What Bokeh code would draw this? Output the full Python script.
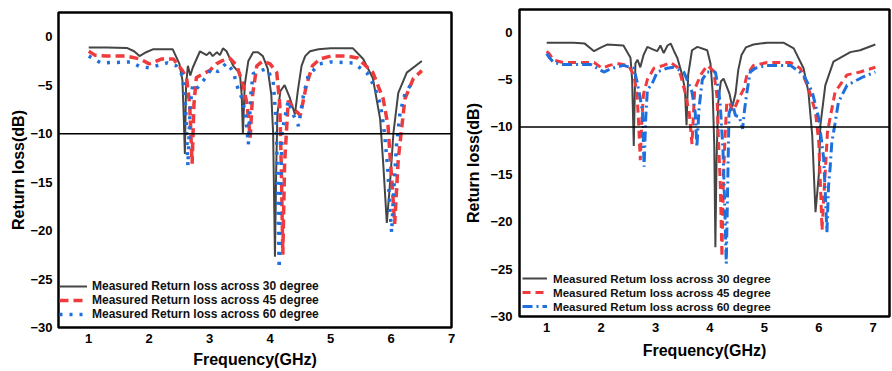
from bokeh.plotting import figure
from bokeh.layouts import row
from bokeh.models import Span, FixedTicker, Range1d
from bokeh.embed import file_html
from bokeh.resources import INLINE

# ---------------- Data (shared) ----------------
x_ticks = [1, 2, 3, 4, 5, 6, 7]
y_ticks = [-30, -25, -20, -15, -10, -5, 0]
labels = ["Measured Return loss across 30 degree",
          "Measured Return loss across 45 degree",
          "Measured Return loss across 60 degree"]
labels_r = ["Measured Retum loss across 30 degree",
            "Measured Retum loss across 45 degree",
            "Measured Retum loss across 60 degree"]

# ---------------- Data (left panel) ----------------
fL30 = [1.0, 1.3, 1.63, 1.75, 1.84, 1.95, 2.06, 2.39, 2.5, 2.55, 2.57, 2.59, 2.61, 2.64, 2.68, 2.72,
        2.84, 2.95, 3.0, 3.05, 3.12, 3.17, 3.22, 3.28, 3.39, 3.5, 3.53, 3.55, 3.58, 3.64, 3.72, 3.8,
        3.88, 3.96, 4.02, 4.05, 4.08, 4.1, 4.12, 4.17, 4.24, 4.32, 4.41, 4.46, 4.52, 4.58, 4.66, 4.8,
        5.0, 5.37, 5.54, 5.7, 5.82, 5.87, 5.93, 5.98, 6.04, 6.12, 6.26, 6.51]
rL30 = [-1.1, -1.1, -1.15, -1.5, -2.0, -1.6, -1.3, -1.3, -2.8, -4.5, -8.0, -12.1, -5.0, -3.0, -4.0, -3.2,
        -1.5, -1.9, -1.6, -2.0, -1.6, -1.9, -1.2, -1.5, -3.0, -3.8, -6.0, -10.0, -5.0, -2.5, -1.6, -1.6,
        -2.0, -3.3, -6.0, -10.0, -22.7, -14.0, -8.0, -5.6, -5.0, -6.2, -8.0, -5.5, -3.0, -2.0, -1.5, -1.3,
        -1.2, -1.2, -2.3, -4.3, -8.5, -13.0, -19.2, -15.4, -9.9, -5.8, -3.7, -2.5]

fL45 = [1.0, 1.1, 1.3, 1.63, 1.85, 2.0, 2.2, 2.4, 2.55, 2.62, 2.67, 2.71, 2.74, 2.78, 2.9, 3.0,
        3.11, 3.2, 3.33, 3.45, 3.55, 3.62, 3.67, 3.71, 3.78, 3.88, 4.0, 4.11, 4.16, 4.19, 4.21, 4.24,
        4.3, 4.4, 4.5, 4.6, 4.7, 4.82, 5.0, 5.27, 5.45, 5.7, 5.87, 5.95, 5.98, 6.02, 6.06, 6.12,
        6.18, 6.23, 6.37, 6.51]
rL45 = [-1.5, -1.9, -2.0, -2.0, -2.3, -2.8, -2.3, -2.3, -3.5, -4.3, -7.0, -13.1, -7.0, -4.2, -3.8, -3.5,
        -2.8, -2.5, -2.2, -3.0, -4.9, -7.0, -10.4, -6.0, -3.0, -2.5, -2.8, -3.7, -7.0, -15.0, -22.5, -13.0,
        -6.6, -7.5, -8.1, -5.0, -3.0, -2.3, -2.0, -2.0, -2.2, -3.7, -6.4, -9.2, -12.0, -15.4, -19.3, -12.6,
        -9.2, -6.4, -4.3, -3.5]

fL60 = [1.0, 1.2, 1.7, 1.85, 2.0, 2.3, 2.45, 2.55, 2.6, 2.64, 2.68, 2.72, 2.78, 2.9, 3.03, 3.14,
        3.28, 3.39, 3.47, 3.55, 3.6, 3.64, 3.68, 3.72, 3.94, 4.05, 4.1, 4.12, 4.15, 4.18, 4.2, 4.3,
        4.38, 4.47, 4.55, 4.63, 4.82, 5.0, 5.37, 5.6, 5.73, 5.82, 5.87, 5.9, 5.95, 5.98, 6.01, 6.04,
        6.09, 6.15, 6.23, 6.37]
rL60 = [-2.0, -2.7, -2.6, -3.1, -3.2, -2.7, -3.0, -4.0, -7.0, -13.3, -7.0, -5.0, -5.4, -4.5, -3.3, -3.6,
        -2.7, -3.6, -5.4, -6.6, -8.5, -11.1, -6.0, -3.8, -3.3, -4.5, -8.8, -14.0, -23.9, -14.0, -9.7, -6.6,
        -8.0, -9.2, -6.1, -4.0, -2.8, -2.6, -2.7, -3.7, -5.2, -6.9, -8.9, -10.5, -14.0, -17.6, -20.2, -16.4,
        -11.2, -7.8, -5.9, -4.5]

# ---------------- Data (right panel) ----------------
fR30 = [1.0, 1.5, 1.7, 1.87, 2.0, 2.11, 2.41, 2.54, 2.57, 2.6, 2.63, 2.67, 2.72, 2.78, 2.85, 2.95,
        3.03, 3.09, 3.15, 3.22, 3.28, 3.34, 3.4, 3.49, 3.54, 3.57, 3.6, 3.67, 3.77, 3.95, 4.01, 4.05,
        4.08, 4.1, 4.12, 4.15, 4.2, 4.25, 4.3, 4.36, 4.41, 4.47, 4.52, 4.58, 4.66, 4.8, 5.05, 5.35,
        5.54, 5.72, 5.81, 5.88, 5.94, 6.0, 6.03, 6.12, 6.27, 6.58, 6.76, 7.04]
rR30 = [-1.1, -1.1, -1.2, -2.0, -1.6, -1.3, -1.4, -2.7, -5.0, -12.0, -3.3, -2.9, -3.7, -2.4, -1.55, -1.8,
        -2.0, -1.4, -2.2, -1.4, -1.2, -2.0, -2.7, -4.5, -6.0, -9.8, -4.5, -1.9, -1.55, -1.9, -3.3, -6.3,
        -12.0, -22.7, -14.0, -7.5, -5.2, -4.9, -5.6, -6.5, -7.9, -6.5, -4.0, -2.4, -1.6, -1.3, -1.1, -1.1,
        -1.7, -3.8, -6.3, -10.9, -19.0, -15.1, -9.8, -5.6, -3.1, -2.1, -1.9, -1.3]

fR45 = [1.0, 1.05, 1.13, 1.3, 1.87, 2.02, 2.15, 2.3, 2.5, 2.6, 2.66, 2.69, 2.72, 2.75, 2.78, 2.85,
        2.97, 3.15, 3.28, 3.4, 3.46, 3.55, 3.62, 3.67, 3.72, 3.83, 3.95, 4.07, 4.13, 4.16, 4.19, 4.22,
        4.25, 4.28, 4.31, 4.36, 4.41, 4.47, 4.53, 4.62, 4.68, 4.8, 5.05, 5.48, 5.66, 5.81, 5.94, 6.0,
        6.03, 6.06, 6.09, 6.12, 6.16, 6.3, 6.52, 6.76, 7.04]
rR45 = [-2.0, -2.3, -2.95, -3.2, -3.2, -3.8, -3.5, -3.3, -3.5, -4.5, -6.5, -9.7, -13.5, -9.0, -6.5, -5.0,
        -3.8, -3.5, -3.2, -3.7, -4.5, -6.5, -8.5, -11.8, -6.0, -4.5, -3.5, -4.1, -6.8, -11.8, -16.0, -23.7,
        -15.0, -10.7, -7.4, -7.4, -8.3, -7.8, -7.0, -6.0, -4.5, -3.5, -3.2, -3.2, -3.8, -5.9, -8.4, -11.6,
        -16.0, -20.9, -17.5, -14.7, -10.5, -6.3, -4.5, -4.2, -3.7]

fR60 = [1.0, 1.05, 1.13, 1.3, 1.81, 2.05, 2.2, 2.41, 2.6, 2.66, 2.72, 2.76, 2.79, 2.82, 2.85, 2.94,
        3.03, 3.21, 3.33, 3.52, 3.58, 3.67, 3.73, 3.76, 3.8, 3.86, 3.95, 4.1, 4.16, 4.19, 4.24, 4.27,
        4.3, 4.33, 4.35, 4.41, 4.47, 4.54, 4.6, 4.64, 4.68, 4.74, 4.83, 5.05, 5.48, 5.72, 5.88, 6.0,
        6.09, 6.12, 6.15, 6.18, 6.21, 6.24, 6.3, 6.36, 6.52, 6.82, 7.04]
rR60 = [-2.25, -2.7, -3.2, -3.4, -3.4, -4.2, -3.8, -3.5, -3.8, -5.2, -7.0, -8.4, -14.2, -9.0, -6.1, -5.4,
        -4.2, -3.8, -3.7, -4.2, -5.0, -6.3, -8.5, -12.1, -8.0, -5.0, -4.2, -4.2, -6.1, -7.7, -12.5, -18.0,
        -24.4, -15.0, -8.6, -7.5, -8.8, -8.9, -10.2, -8.0, -6.3, -4.2, -3.8, -3.5, -3.5, -4.5, -6.3, -9.1,
        -13.3, -17.0, -21.1, -16.2, -14.2, -11.6, -9.6, -7.4, -5.6, -4.7, -4.2]

GRAY = "#454545"
RED = "#EF3B3E"
BLUE = "#1F6FDD"
FONT = "Liberation Sans"


def make_fig(width, height, x_end, y_end, b_left, b_right, b_top, b_bottom,
             y_tick_standoff, y_label_standoff, x_tick_standoff, x_label_standoff):
    p = figure(width=width, height=height, output_backend="svg", toolbar_location=None,
               x_range=Range1d(0.5, x_end), y_range=Range1d(-30, y_end),
               min_border_left=b_left, min_border_right=b_right,
               min_border_top=b_top, min_border_bottom=b_bottom)
    p.frame_align = False
    p.background_fill_color = "white"
    p.border_fill_color = "white"
    p.outline_line_color = "black"
    p.outline_line_width = 2.5
    p.xgrid.visible = False
    p.ygrid.visible = False
    p.xaxis.ticker = FixedTicker(ticks=x_ticks)
    p.yaxis.ticker = FixedTicker(ticks=y_ticks)
    for ax in (p.xaxis[0], p.yaxis[0]):
        ax.axis_line_color = None
        ax.major_tick_line_color = None
        ax.minor_tick_line_color = None
        ax.major_tick_out = 0
        ax.major_tick_in = 0
        ax.minor_tick_out = 0
        ax.major_label_text_font = FONT
        ax.major_label_text_font_style = "bold"
        ax.major_label_text_font_size = "13px"
        ax.major_label_text_color = "black"
        ax.axis_label_text_font = FONT
        ax.axis_label_text_font_style = "bold"
        ax.axis_label_text_font_size = "16px"
        ax.axis_label_text_color = "black"
    p.xaxis.axis_label = "Frequency(GHz)"
    p.yaxis.axis_label = "Return loss(dB)"
    p.yaxis.major_label_standoff = y_tick_standoff
    p.yaxis.axis_label_standoff = y_label_standoff
    p.xaxis.major_label_standoff = x_tick_standoff
    p.xaxis.axis_label_standoff = x_label_standoff
    p.add_layout(Span(location=-10, dimension="width", line_color="black", line_width=1.5))
    return p


def style_legend(p, glyph_w, standoff, size, loc):
    lg = p.legend[0]
    lg.location = loc
    lg.background_fill_alpha = 0
    lg.border_line_color = None
    lg.margin = 0
    lg.padding = 4
    lg.spacing = 0
    lg.glyph_width = glyph_w
    lg.glyph_height = 14
    lg.label_height = 14
    lg.label_standoff = standoff
    lg.label_text_font = FONT
    lg.label_text_font_style = "bold"
    lg.label_text_font_size = size
    lg.label_text_color = "#111111"


# Left panel
p1 = make_fig(455, 371, 7.0, 2.5, 58, 4, 12, 44, 6, 0, 6, 5)
p1.line(fL30, rL30, line_color=GRAY, line_width=2, legend_label=labels[0])
p1.line(fL45, rL45, line_color=RED, line_width=3.5, line_dash="9 5", legend_label=labels[1])
p1.line(fL60, rL60, line_color=BLUE, line_width=3.5, line_dash="3 7", legend_label=labels[2])
style_legend(p1, 28, 5, "12px", (1, 6))

# Right panel
p2 = make_fig(437, 371, 7.3, 2.4, 64, 3, 9, 55, 7, 5, 6, 7)
p2.line(fR30, rR30, line_color=GRAY, line_width=2, legend_label=labels_r[0])
p2.line(fR45, rR45, line_color=RED, line_width=3, line_dash="8 5", legend_label=labels_r[1])
p2.line(fR60, rR60, line_color=BLUE, line_width=3, line_dash="10 4 2 4", legend_label=labels_r[2])
style_legend(p2, 25, 6, "11.6px", (3, 3))

layout = row(p1, p2, spacing=0)
open("out.html", "w").write(file_html(layout, INLINE))
